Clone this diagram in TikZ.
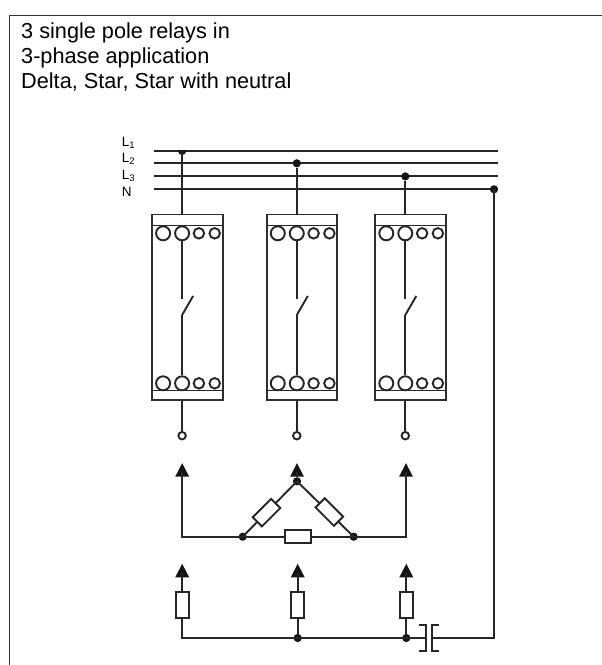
\documentclass[tikz,border=0pt]{standalone}
\usepackage{fontspec}
\setmainfont{Liberation Sans}
\usetikzlibrary{shapes.geometric}
\tikzset{
 x=1pt,y=-1pt,
 wire/.style={line width=1.9pt,draw=black!85},
 relaybox/.style={line width=1.9pt,draw=black!82,fill=white},
 dotn/.style={circle,fill=black!92,inner sep=0pt,minimum size=8.2pt},
 ringn/.style={circle,draw=black!85,line width=1.9pt,fill=white,inner sep=0pt},
 bigring/.style={ringn,minimum size=14pt},
 smallring/.style={ringn,minimum size=10.5pt},
 termring/.style={ringn,minimum size=7.5pt},
 arrowtip/.style={isosceles triangle,isosceles triangle stretches,shape border rotate=90,fill=black!92,inner sep=0pt,minimum height=13.5pt,minimum width=14pt,anchor=apex},
 resistor/.style={draw=black!85,line width=1.9pt,fill=white,inner sep=0pt,rectangle,minimum width=13pt,minimum height=26pt},
 lab/.style={font=\fontsize{13.5}{14}\selectfont,anchor=base west,inner sep=0pt},
}
\newcommand{\relaydev}[2]{%
 \draw[relaybox] (#1-30,214.5) rectangle (#1+40.5,400);
 \draw[wire] (#1-30,225.5) -- (#1+40.5,225.5);
 \draw[wire] (#1-30,390.5) -- (#1+40.5,390.5);
 \node[bigring] (#2a) at (#1-19,233.3) {};
 \node[bigring] (#2b) at (#1,233.3) {};
 \node[smallring] (#2c) at (#1+16.8,233.3) {};
 \node[smallring] (#2d) at (#1+32.6,233.3) {};
 \node[bigring] (#2e) at (#1-19,383.3) {};
 \node[bigring] (#2f) at (#1,383.3) {};
 \node[smallring] (#2g) at (#1+16.8,383.3) {};
 \node[smallring] (#2h) at (#1+32.6,383.3) {};
 \coordinate (#2p) at (#1,299.3);
 \coordinate (#2q) at (#1,315);
 \coordinate (#2r) at (#1+11,296);
 \coordinate (#2top) at (#1,214.5);
 \coordinate (#2bot) at (#1,400);
 \node[termring] (#2t) at (#1,435.7) {};
 \draw[wire] (#2b) -- (#2p);
 \draw[wire] (#2q) -- (#2r);
 \draw[wire] (#2q) -- (#2f);
 \draw[wire] (#2bot) -- (#2t);
}
\begin{document}
\begin{tikzpicture}
\useasboundingbox (0,0) rectangle (602,665);
\draw[line width=1.4pt,draw=black!80] (9.3,665) -- (9.3,15.3) -- (602,15.3);
\node[inner sep=0pt,anchor=north west,align=left,font=\fontsize{21.7}{25}\selectfont] (title) at (21,22.5) {3 single pole relays in\\3-phase application\\Delta, Star, Star with neutral};
\node[lab] (l1) at (121.7,146) {L\textsubscript{1}};
\node[lab] (l2) at (121.7,162) {L\textsubscript{2}};
\node[lab] (l3) at (121.7,179.3) {L\textsubscript{3}};
\node[lab] (ln) at (121.7,196.7) {N};
% busbars
\foreach \n/\y in {1/150.7,2/163.3,3/176.2,4/189.3}{
 \coordinate (bl\n) at (154.3,\y);
 \coordinate (br\n) at (498,\y);
 \draw[wire] (bl\n) -- (br\n);
}
% relays
\relaydev{182.1}{A}
\relaydev{296.8}{B}
\relaydev{405.3}{C}
% taps
\begin{scope}
 \clip (170,150) rectangle (195,160);
 \node[dotn] (d1) at (182.1,151) {};
\end{scope}
\node[dotn] (d2) at (296.8,163.3) {};
\node[dotn] (d3) at (405.3,176.4) {};
\node[dotn] (dn) at (494,189.3) {};
\draw[wire] (d1.center) -- (Atop);
\draw[wire] (d2) -- (Btop);
\draw[wire] (d3) -- (Ctop);
% delta
\node[arrowtip] (t1) at (182.2,462.7) {};
\node[arrowtip] (t2) at (297,462.7) {};
\node[arrowtip] (t3) at (406,462.7) {};
\node[dotn] (da) at (297,481.3) {};
\node[dotn] (db) at (242.7,536.7) {};
\node[dotn] (dc) at (353.7,536.7) {};
\coordinate (cl) at (182.2,536.7);
\coordinate (cr) at (406,536.7);
\draw[wire] (t1.center) -- (cl) -- (cr) -- (t3.center);
\draw[wire] (t2.center) -- (da);
\draw[wire] (da.center) -- (db.center);
\draw[wire] (da.center) -- (dc.center);
\node[resistor,rotate=90] (rb) at (298,536.7) {};
\node[resistor,rotate=-45] (ra) at (266.5,512.7) {};
\node[resistor,rotate=45] (rc) at (329.3,512) {};
% star
\node[arrowtip] (s1) at (182.2,563.3) {};
\node[arrowtip] (s2) at (297.7,563.3) {};
\node[arrowtip] (s3) at (406.3,563.3) {};
\node[dotn] (e2) at (297.7,638) {};
\node[dotn] (e3) at (406.3,638) {};
\coordinate (el) at (182.2,638);
\coordinate (pa) at (426.3,638);
\coordinate (pb) at (432.3,638);
\coordinate (nc) at (494,638);
\draw[wire] (s1.center) -- (el) -- (e3.center) -- (pa);
\draw[wire] (s2.center) -- (e2);
\draw[wire] (s3.center) -- (e3);
\draw[wire] (dn.center) -- (nc) -- (pb);
\node[resistor] (r1) at (182.2,605.2) {};
\node[resistor] (r2) at (297.7,605.2) {};
\node[resistor] (r3) at (406.3,605.2) {};
% plates
\coordinate (p1) at (419.3,624.7);
\coordinate (p2) at (426.3,624.7);
\coordinate (p3) at (426.3,651);
\coordinate (p4) at (419.3,651);
\coordinate (q1) at (439.3,624.7);
\coordinate (q2) at (432.3,624.7);
\coordinate (q3) at (432.3,651);
\coordinate (q4) at (439.3,651);
\draw[wire] (p1) -- (p2) -- (p3) -- (p4);
\draw[wire] (q1) -- (q2) -- (q3) -- (q4);
\end{tikzpicture}
\end{document}
